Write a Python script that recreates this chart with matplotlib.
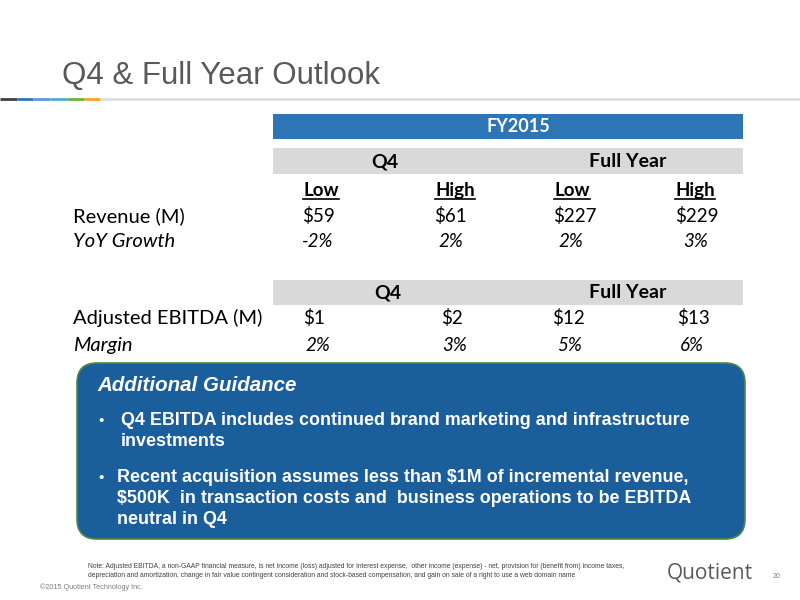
import matplotlib
matplotlib.use("Agg")
import matplotlib.pyplot as plt
from matplotlib.patches import Rectangle, FancyBboxPatch

# ---- data ----
title = "Q4 & Full Year Outlook"
period = "FY2015"
groups = ["Q4", "Full Year"]
subcols = ["Low", "High", "Low", "High"]
revenue = [59, 61, 227, 229]
yoy_growth = [-2, 2, 2, 3]
ebitda = [1, 2, 12, 13]
margin = [2, 3, 5, 6]
guidance_title = "Additional Guidance"
guidance = [
    ["Q4 EBITDA includes continued brand marketing and infrastructure",
     "investments"],
    ["Recent acquisition assumes less than $1M of incremental revenue,",
     "$500K  in transaction costs and  business operations to be EBITDA",
     "neutral in Q4"],
]
note = ["Note: Adjusted EBITDA, a non-GAAP financial measure, is net income (loss) adjusted for interest expense,  other income (expense) - net, provision for (benefit from) income taxes,",
        "depreciation and amortization, change in fair value contingent consideration and stock-based compensation, and gain on sale of a right to use a web domain name"]
copyright_txt = "\u00a92015 Quotient Technology Inc."
logo = "Quotient"
page = "20"

TF = ["Lato", "DejaVu Sans"]
AF = ["Liberation Sans", "DejaVu Sans"]
NF = ["Liberation Sans Narrow", "Liberation Sans", "DejaVu Sans"]

fig = plt.figure(figsize=(8, 6), dpi=100)
ax = fig.add_axes([0, 0, 1, 1])
ax.set_xlim(0, 800)
ax.set_ylim(600, 0)
ax.axis("off")

# title and decorative line
ax.text(62, 84, title, fontsize=22.5, color="#595959", family=AF, va="baseline")
seg_cols = ["#404040", "#2E75B6", "#5B9BD5", "#4BACC6", "#70AD47", "#F5A623"]
for i, c in enumerate(seg_cols):
    ax.plot([i * 16.7, (i + 1) * 16.7], [99, 99], color=c, lw=2, solid_capstyle="butt")
ax.plot([100, 800], [99, 99], color="#DDDDDD", lw=2, solid_capstyle="butt")

# header bars
ax.add_patch(Rectangle((273, 114), 470, 25, color="#2E75B6", lw=0))
ax.text(518, 127, period, color="white", fontsize=13, weight="bold", family=TF,
        ha="center", va="center")
ax.add_patch(Rectangle((273, 148), 470, 26, color="#D9D9D9", lw=0))
for g, x in zip(groups, [385, 628]):
    ax.text(x, 161.5, g, fontsize=14, weight="bold", family=TF, ha="center",
            va="center", color="black")

# sub-column headers with underline
fig.canvas.draw()
rend = fig.canvas.get_renderer()
inv = ax.transData.inverted()
for s, x in zip(subcols, [321, 455, 572, 695]):
    t = ax.text(x, 196, s, fontsize=13.5, weight="bold", family=TF, ha="center",
                va="baseline", color="black")
    bb = t.get_window_extent(rend)
    (x0, _), (x1, _) = inv.transform([(bb.x0, 0), (bb.x1, 0)])
    ax.plot([x0, x1], [199, 199], color="black", lw=1.2)

fl = 14.5
fs = 13.5
ax.text(73, 222, "Revenue (M)", fontsize=fl, family=TF, va="baseline")
ax.text(73, 247, "YoY Growth", fontsize=fl, family=TF, style="italic", va="baseline")
for v, x in zip(revenue, [302, 434, 553, 675]):
    ax.text(x, 222, f"${v}", fontsize=fs, family=TF, va="baseline")
for v, x in zip(yoy_growth, [302, 438, 558, 683]):
    ax.text(x, 247, f"{v}%", fontsize=fs, family=TF, style="italic", va="baseline")

# second table
ax.add_patch(Rectangle((273, 280), 470, 25, color="#D9D9D9", lw=0))
for g, x in zip(groups, [388, 628]):
    ax.text(x, 293, g, fontsize=14, weight="bold", family=TF, ha="center",
            va="center", color="black")
ax.text(73, 324, "Adjusted EBITDA (M)", fontsize=fl, family=TF, va="baseline")
ax.text(73, 351, "Margin", fontsize=fl, family=TF, style="italic", va="baseline")
for v, x in zip(ebitda, [303, 441, 552, 677]):
    ax.text(x, 324, f"${v}", fontsize=fs, family=TF, va="baseline")
for v, x in zip(margin, [305, 442, 557, 680]):
    ax.text(x, 351, f"{v}%", fontsize=fs, family=TF, style="italic", va="baseline")

# guidance box
ax.add_patch(FancyBboxPatch((77, 363), 668, 176,
                            boxstyle="round,pad=0,rounding_size=20",
                            facecolor="#1B5E9C", edgecolor="#4E8A3E", lw=1.2))
ax.text(97, 391, guidance_title, color="white", fontsize=14.8, weight="bold",
        style="italic", family=AF, va="baseline")
line_y = [[425, 446], [482, 503, 524]]
text_x = [121, 117]
for lines, ys, tx in zip(guidance, line_y, text_x):
    ax.text(98, ys[0], "\u2022", color="white", fontsize=11, family=AF, va="baseline")
    for ln, y in zip(lines, ys):
        ax.text(tx, y, ln, color="white", fontsize=12.9, weight="bold", family=NF,
                va="baseline")

# footer
for ln, y in zip(note, [568, 577]):
    ax.text(88, y, ln, fontsize=4.85, color="#404040", family=AF, va="baseline")
ax.text(40, 589, copyright_txt, fontsize=5.2, color="#7F7F7F", family=AF, va="baseline")
ax.text(667, 579, logo, fontsize=15, color="#595959", family=["Open Sans", "DejaVu Sans"],
        va="baseline")
ax.text(773, 578, page, fontsize=5, color="#7F7F7F", family=AF, va="baseline")

fig.savefig("out.png", dpi=100)
